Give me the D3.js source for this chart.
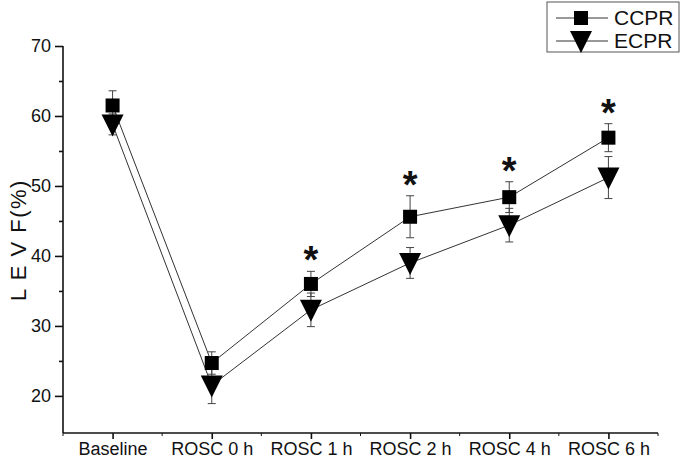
<!DOCTYPE html>
<head>
  <meta charset="utf-8">
  <script src="https://d3js.org/d3.v7.min.js"></script>
  <style>
    body { margin:0; background:#fff; }
    text { font-family: "Liberation Sans", Arial, sans-serif; fill:#111; }
  </style>
</head>
<body>
<script>
  // data
  var categories = ["Baseline", "ROSC 0 h", "ROSC 1 h", "ROSC 2 h", "ROSC 4 h", "ROSC 6 h"];
  var ccprMean = [61.5, 24.7, 36.0, 45.6, 48.4, 56.9];
  var ccprSd   = [2.1, 1.6, 1.8, 3.0, 2.2, 2.0];
  var ecprMean = [58.8, 21.5, 32.3, 39.0, 44.4, 51.2];
  var ecprSd   = [1.5, 2.6, 2.4, 2.2, 2.4, 3.0];
  var starred  = ["ROSC 1 h", "ROSC 2 h", "ROSC 4 h", "ROSC 6 h"];
  var yTicks   = [20, 30, 40, 50, 60, 70];

  var W = 685, H = 459;
  var svg = d3.select("body").append("svg")
    .attr("width", W).attr("height", H);

  var x = d3.scalePoint().domain(categories).range([63, 658]).padding(0.5);
  var y = d3.scaleLinear().domain([14.7, 70]).range([433, 46]);

  var series = [
    {name: "CCPR", mean: ccprMean, sd: ccprSd, shape: "square"},
    {name: "ECPR", mean: ecprMean, sd: ecprSd, shape: "tri"}
  ];

  // axes
  var yAxis = svg.append("g").attr("transform", "translate(63,0)")
    .call(d3.axisLeft(y).tickValues(yTicks).tickSize(8).tickPadding(4));
  svg.append("g").attr("transform", "translate(63,0)")
    .call(d3.axisLeft(y).tickValues([25, 35, 45, 55, 65]).tickSize(4).tickFormat(""))
    .select(".domain").remove();
  yAxis.select(".domain").attr("d", "M0," + y(70) + "V" + y.range()[0]);
  yAxis.selectAll(".tick text").style("font-size", "18px");

  var bw = x.step();
  var xAxis = svg.append("g").attr("transform", "translate(0,433)")
    .call(d3.axisBottom(x).tickSize(6).tickPadding(3));
  xAxis.select(".domain").attr("d", "M63,0H658");
  xAxis.selectAll(".tick text").style("font-size", "18px");
  var minor = d3.range(categories.length + 1).map(function(i) { return 63 + i * bw; });
  xAxis.selectAll(".minor").data(minor).enter().append("line")
    .attr("x1", function(d) { return d; }).attr("x2", function(d) { return d; })
    .attr("y1", 0).attr("y2", 3).attr("stroke", "#111");

  svg.selectAll(".domain, .tick line").attr("stroke", "#111").attr("stroke-width", 1.6);
  svg.selectAll(".tick text").attr("fill", "#111");

  // y label
  svg.append("text")
    .attr("transform", "translate(26,240) rotate(-90)")
    .attr("text-anchor", "middle")
    .style("font-size", "22px")
    .style("letter-spacing", "1.5px")
    .text("L E V F(%)");

  var line = d3.line()
    .x(function(d, i) { return x(categories[i]); })
    .y(function(d) { return y(d); });

  function marker(sel, shape) {
    if (shape === "square") {
      sel.append("rect").attr("x", -7).attr("y", -7).attr("width", 14).attr("height", 14)
        .attr("fill", "#000");
    } else {
      sel.append("path").attr("d", "M-11,-10L11,-10L0,12Z").attr("fill", "#000");
    }
  }

  series.forEach(function(s) {
    var g = svg.append("g");
    // error bars
    s.mean.forEach(function(m, i) {
      var cx = x(categories[i]);
      var top = y(m + s.sd[i]), bot = y(m - s.sd[i]);
      g.append("line").attr("x1", cx).attr("x2", cx).attr("y1", top).attr("y2", bot)
        .attr("stroke", "#444").attr("stroke-width", 1);
      [top, bot].forEach(function(yy) {
        g.append("line").attr("x1", cx - 4).attr("x2", cx + 4).attr("y1", yy).attr("y2", yy)
          .attr("stroke", "#444").attr("stroke-width", 1);
      });
    });
    g.append("path").datum(s.mean).attr("d", line)
      .attr("fill", "none").attr("stroke", "#333").attr("stroke-width", 1);
  });

  series.forEach(function(s) {
    s.mean.forEach(function(m, i) {
      var mg = svg.append("g")
        .attr("transform", "translate(" + x(categories[i]) + "," + y(m) + ")");
      marker(mg, s.shape);
    });
  });

  // significance stars
  starred.forEach(function(c) {
    var i = categories.indexOf(c);
    svg.append("text")
      .attr("x", x(c)).attr("y", y(ccprMean[i] + ccprSd[i]) + 2)
      .attr("text-anchor", "middle")
      .style("font-size", "38px").style("font-weight", "bold")
      .text("*");
  });

  // legend
  var lg = svg.append("g");
  lg.append("rect").attr("x", 547).attr("y", 2).attr("width", 132).attr("height", 50)
    .attr("fill", "#fff").attr("stroke", "#555").attr("stroke-width", 1);
  series.forEach(function(s, k) {
    var ly = 18 + k * 23;
    lg.append("line").attr("x1", 556).attr("x2", 608).attr("y1", ly).attr("y2", ly)
      .attr("stroke", "#333").attr("stroke-width", 1);
    var mg = lg.append("g").attr("transform", "translate(581," + ly + ")");
    marker(mg, s.shape);
    lg.append("text").attr("x", 614).attr("y", ly + 7)
      .style("font-size", "21px").text(s.name);
  });
</script>
</body>
